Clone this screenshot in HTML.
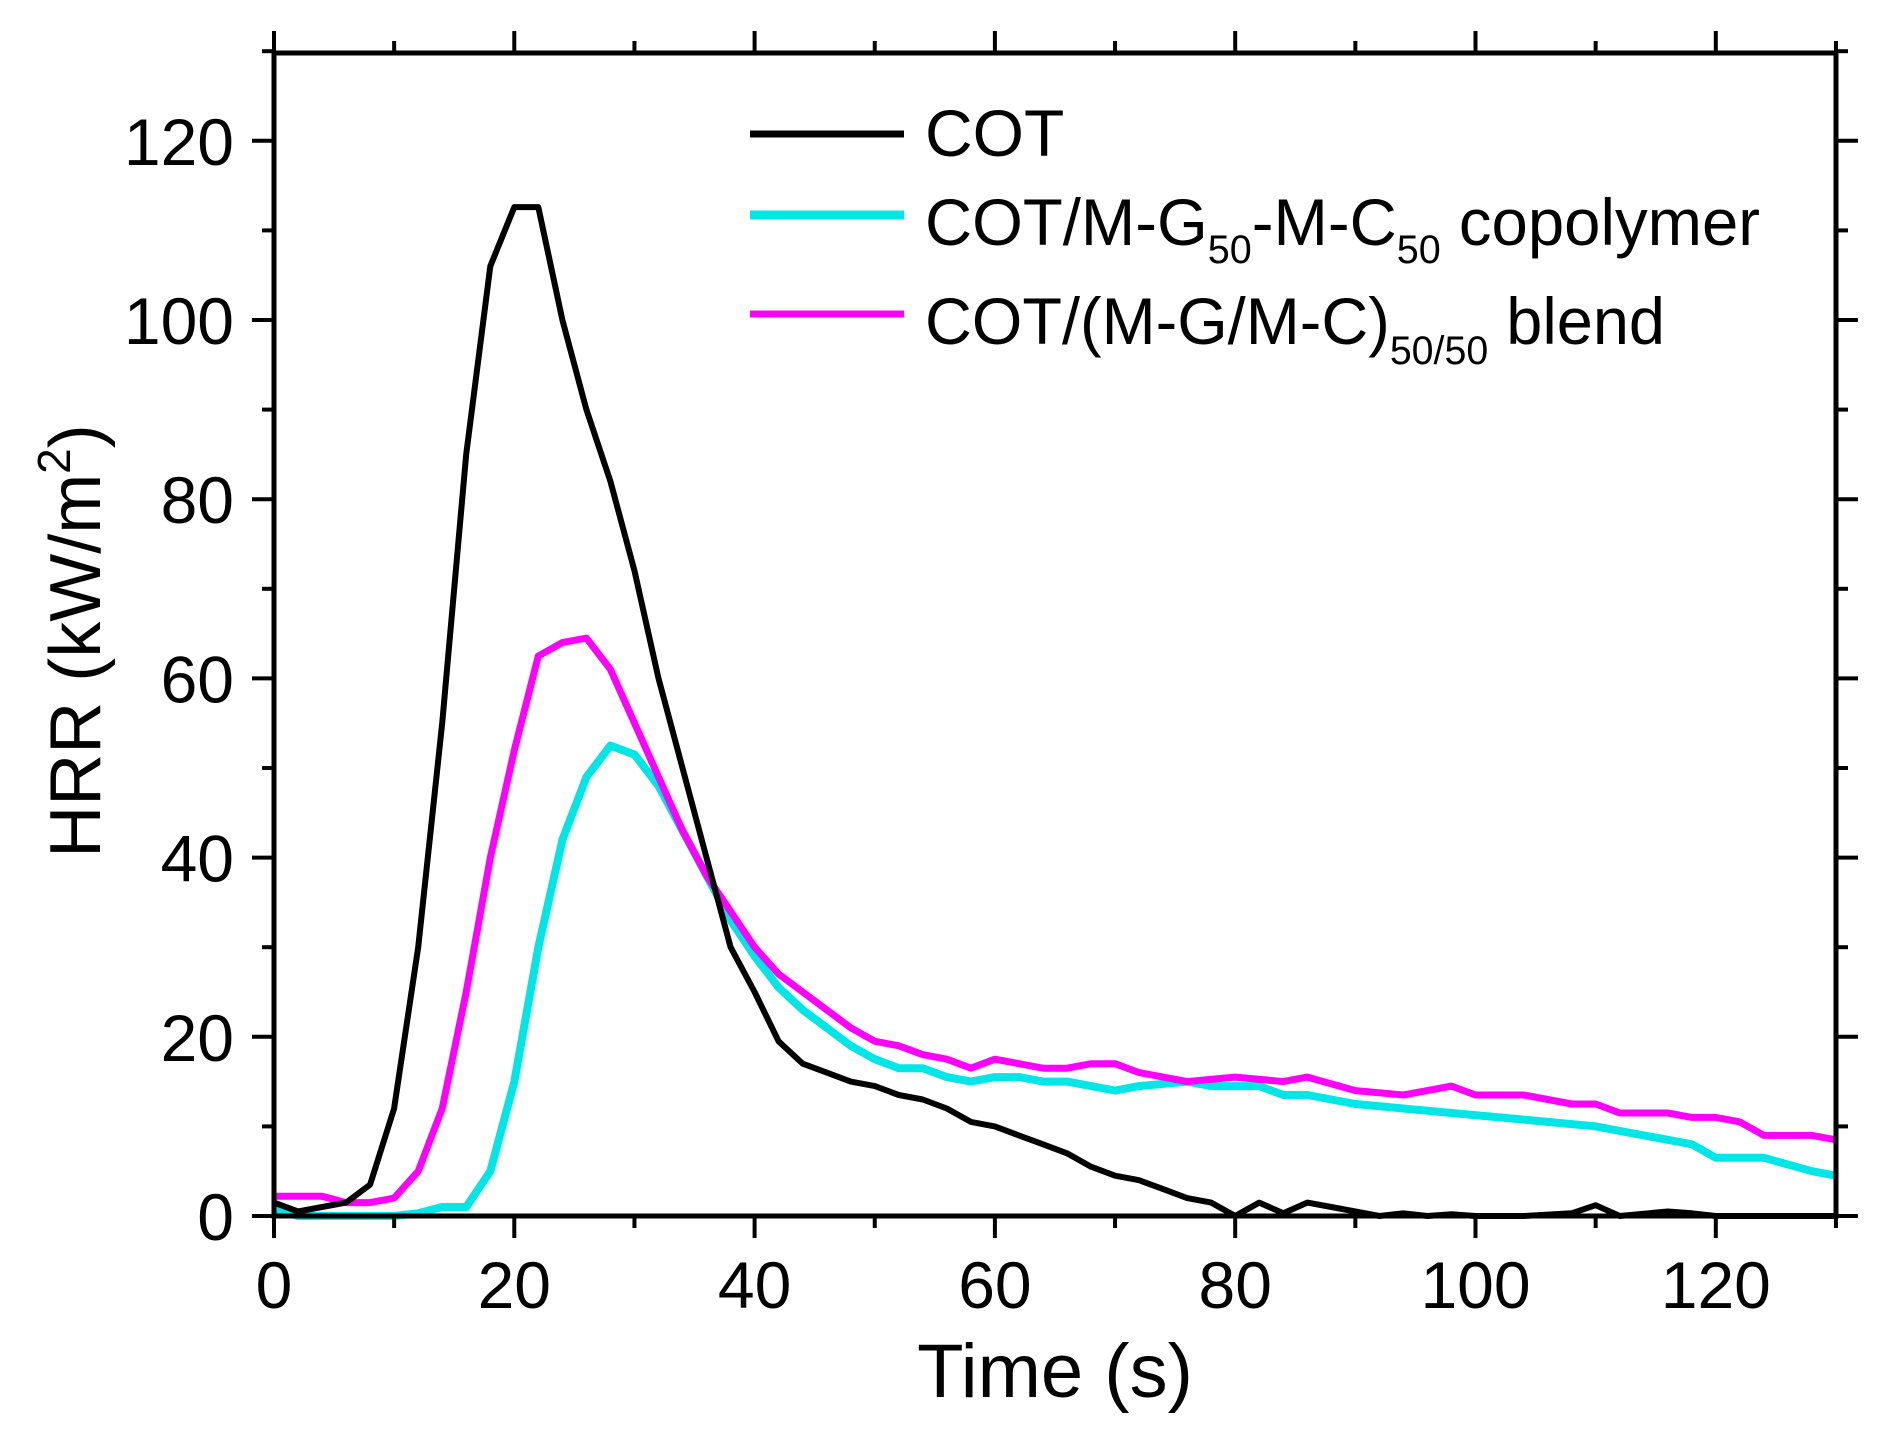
<!DOCTYPE html>
<html><head><meta charset="utf-8"><style>
html,body{margin:0;padding:0;background:#fff;}
svg{display:block;}
text{font-family:"Liberation Sans",Arial,sans-serif;fill:#000;}
</style></head><body>
<svg width="1887" height="1434" viewBox="0 0 1887 1434" xmlns="http://www.w3.org/2000/svg">
<g id="plot"></g>
<g stroke="#000" stroke-width="5" fill="none">
<rect x="274" y="53" width="1562" height="1163"/>
</g>
<g id="ticks" stroke="#000" stroke-width="4"></g>
<g font-size="66" text-anchor="end" id="ylab"></g>
<g font-size="66" text-anchor="middle" id="xlab"></g>
<text x="1055" y="1397" font-size="76" text-anchor="middle">Time (s)</text>
<text transform="translate(100,641) rotate(-90)" font-size="72" text-anchor="middle">HRR (kW/m<tspan font-size="46" dy="-30">2</tspan><tspan dy="30">)</tspan></text>
<g stroke-width="7">
<line x1="750" y1="134" x2="904" y2="134" stroke="#000"/>
<line x1="750" y1="215" x2="904" y2="215" stroke="#00e5e5" stroke-width="9"/>
<line x1="750" y1="314" x2="904" y2="314" stroke="#ff00ff"/>
</g>
<g font-size="66">
<text x="925" y="156">COT</text>
<text x="925" y="245" textLength="835" lengthAdjust="spacingAndGlyphs">COT/M-G<tspan font-size="40" dy="18">50</tspan><tspan dy="-18">-M-C</tspan><tspan font-size="40" dy="18">50</tspan><tspan dy="-18"> copolymer</tspan></text>
<text x="925" y="344" textLength="740" lengthAdjust="spacingAndGlyphs">COT/(M-G/M-C)<tspan font-size="40" dy="20">50/50</tspan><tspan dy="-20"> blend</tspan></text>
</g>
<script>
var X0=274,XS=12.015,Y0=1216,YS=8.96;
function px(t){return X0+t*XS;} function py(v){return Y0-v*YS;}
var cot=[[0,1.5],[2,0.5],[4,1],[6,1.5],[8,3.5],[10,12],[12,30],[14,55],[16,85],[18,106],[20,112.6],[22,112.6],[24,100],[26,90],[28,82],[30,72],[32,60],[34,50],[36,40],[38,30],[40,25],[42,19.5],[44,17],[46,16],[48,15],[50,14.5],[52,13.5],[54,13],[56,12],[58,10.5],[60,10],[62,9],[64,8],[66,7],[68,5.5],[70,4.5],[72,4],[74,3],[76,2],[78,1.5],[80,0],[82,1.5],[84,0.3],[86,1.5],[88,1],[90,0.5],[92,0],[94,0.3],[96,0],[98,0.2],[100,0],[104,0],[108,0.3],[110,1.2],[112,0],[116,0.5],[118,0.3],[120,0],[128,0],[130,0]];
var cy=[[0,0.8],[2,0],[10,0],[12,0.3],[14,1],[16,1],[18,5],[20,15],[22,30],[24,42],[26,49],[28,52.5],[30,51.5],[32,48],[34,43],[36,38],[38,33],[40,29],[42,25.5],[44,23],[46,21],[48,19],[50,17.5],[52,16.5],[54,16.5],[56,15.5],[58,15],[60,15.5],[62,15.5],[64,15],[66,15],[68,14.5],[70,14],[72,14.5],[76,15],[78,14.5],[80,14.5],[82,14.5],[84,13.5],[86,13.5],[90,12.5],[94,12],[98,11.5],[102,11],[106,10.5],[110,10],[114,9],[118,8],[120,6.5],[124,6.5],[128,5],[130,4.5]];
var mg=[[0,2.2],[4,2.2],[6,1.5],[8,1.5],[10,2],[12,5],[14,12],[16,25],[18,40],[20,52],[22,62.5],[24,64],[26,64.5],[28,61],[30,55],[32,49],[34,43],[36,38],[38,34],[40,30],[42,27],[44,25],[46,23],[48,21],[50,19.5],[52,19],[54,18],[56,17.5],[58,16.5],[60,17.5],[62,17],[64,16.5],[66,16.5],[68,17],[70,17],[72,16],[74,15.5],[76,15],[80,15.5],[84,15],[86,15.5],[90,14],[94,13.5],[96,14],[98,14.5],[100,13.5],[104,13.5],[108,12.5],[110,12.5],[112,11.5],[116,11.5],[118,11],[120,11],[122,10.5],[124,9],[128,9],[130,8.5]];
var NS="http://www.w3.org/2000/svg";
function line(d,c,w){var p=document.createElementNS(NS,"polyline");p.setAttribute("points",d.map(function(a){return px(a[0]).toFixed(1)+","+py(a[1]).toFixed(1)}).join(" "));p.setAttribute("fill","none");p.setAttribute("stroke",c);p.setAttribute("stroke-width",w);p.setAttribute("stroke-linejoin","round");document.getElementById("plot").appendChild(p);}
line(cy,"#00e5e5",8);line(mg,"#ff00ff",7);line(cot,"#000",6);
var tk=document.getElementById("ticks");
function L(x1,y1,x2,y2){var l=document.createElementNS(NS,"line");l.setAttribute("x1",x1);l.setAttribute("y1",y1);l.setAttribute("x2",x2);l.setAttribute("y2",y2);tk.appendChild(l);}
for(var t=0;t<=130;t+=10){var x=px(t),m=(t%20==0)?22:12;L(x,1216,x,1216+m);L(x,53,x,53-m);}
for(var v=0;v<=130;v+=10){var y=py(v),m=(v%20==0)?22:12;L(274,y,274-m,y);L(1836,y,1836+m,y);}
var yl=document.getElementById("ylab"),xl=document.getElementById("xlab");
for(var v=0;v<=120;v+=20){var e=document.createElementNS(NS,"text");e.setAttribute("x",234);e.setAttribute("y",py(v)+24);e.textContent=v;yl.appendChild(e);}
for(var t=0;t<=120;t+=20){var e=document.createElementNS(NS,"text");e.setAttribute("x",px(t));e.setAttribute("y",1308);e.textContent=t;xl.appendChild(e);}
</script>
</svg>
</body></html>
